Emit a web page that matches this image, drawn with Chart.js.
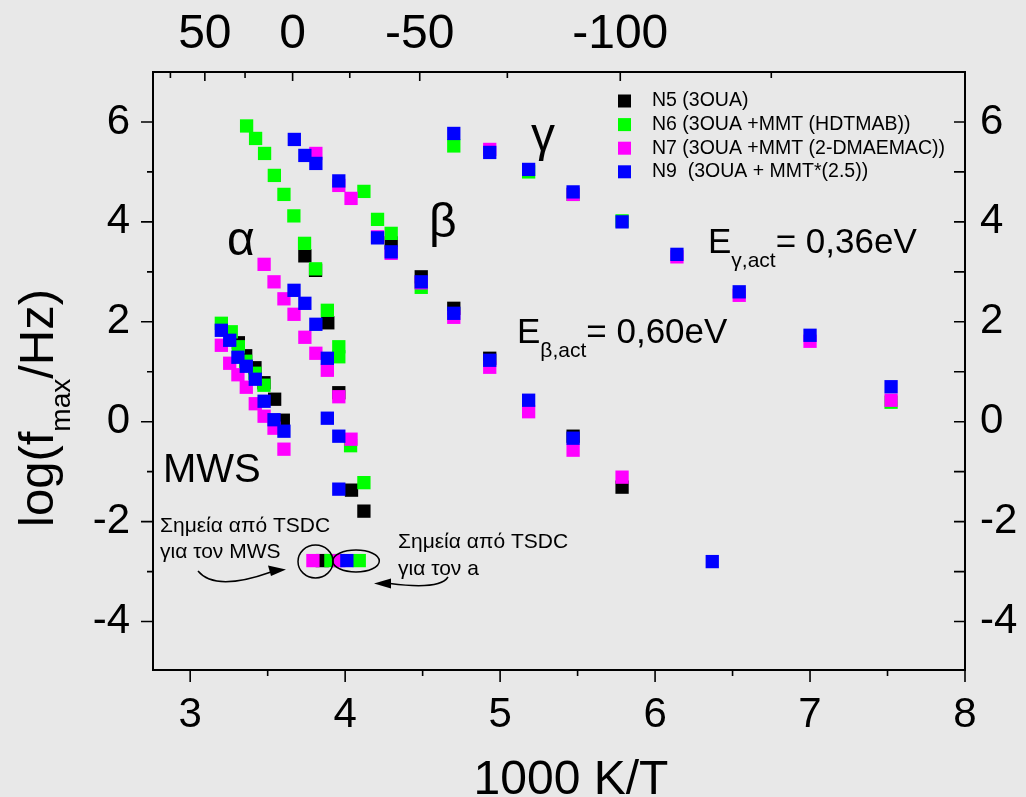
<!DOCTYPE html>
<html>
<head>
<meta charset="utf-8">
<script src="https://cdn.jsdelivr.net/npm/chart.js@4.4.1/dist/chart.umd.min.js"></script>
<style>
  html, body { margin: 0; padding: 0; background: #e8e8e8; }
  #wrap { position: relative; width: 1026px; height: 797px; }
</style>
</head>
<body>
<div id="wrap"><canvas id="myChart" width="1026" height="797"></canvas></div>
<script>
// axis ticks
const xTicks = [3, 4, 5, 6, 7, 8];
const yTicks = [-4, -2, 0, 2, 4, 6];
const celsiusLabels = [50, 0, -50, -100];
const celsiusMinor = [75, 25, -25, -75, -125];

const seriesNames = ['N5 (3OUA)', 'N6 (3OUA +MMT (HDTMAB))', 'N7 (3OUA +MMT (2-DMAEMAC))', 'N9  (3OUA + MMT*(2.5))'];
const seriesColors = ['#000000', '#00ff00', '#ff00ff', '#0000ff'];

// N5 (3OUA)
const n5X = [3.311, 3.358, 3.418, 3.476, 3.545, 3.601,
  3.740, 3.809, 3.888, 3.959, 4.041, 4.121,
  4.297, 4.491, 4.701, 4.933, 5.471, 5.787, 3.852];
const n5Y = [1.58, 1.32, 1.08, 0.78, 0.45, 0.03,
  3.32, 3.03, 1.98, 0.58, -1.37, -1.79,
  3.58, 2.90, 2.27, 1.27, -0.29, -1.31, -2.78];

// N6 (3OUA +MMT (HDTMAB))
const n6X = [3.201, 3.265, 3.311, 3.358, 3.418, 3.476,
  3.364, 3.422, 3.480, 3.543, 3.605, 3.669, 3.738, 3.809, 3.885, 3.959, 3.959, 4.035, 4.121,
  4.121, 4.209, 4.297, 4.491,
  4.701, 5.184, 5.471, 5.787, 7.523,
  3.908, 4.091];
const n6Y = [1.97, 1.80, 1.50, 1.21, 0.97, 0.73,
  5.92, 5.67, 5.37, 4.93, 4.55, 4.12, 3.57, 3.06, 2.23, 1.50, 1.30, -0.48, -1.22,
  4.61, 4.05, 3.77, 2.69,
  5.52, 5.00, 4.55, 4.02, 0.39,
  -2.78, -2.78];

// N7 (3OUA +MMT (2-DMAEMAC))
const n7X = [3.201, 3.255, 3.308, 3.362, 3.420, 3.477, 3.541, 3.605,
  3.477, 3.541, 3.605, 3.670, 3.740, 3.811, 3.885, 3.959, 4.038,
  3.811, 3.959, 4.038, 4.209, 4.297, 4.491, 4.701, 4.933, 5.184, 5.471, 5.787,
  4.933, 5.471, 6.141, 6.543, 7.000, 7.523,
  3.792, 3.959];
const n7Y = [1.53, 1.17, 0.94, 0.69, 0.36, 0.11, -0.13, -0.55,
  3.15, 2.80, 2.46, 2.15, 1.69, 1.37, 1.03, 0.50, -0.35,
  5.37, 4.73, 4.47, 3.70, 3.37, 2.78, 2.09, 1.09, 0.20, -0.57, -1.11,
  5.45, 4.55, 3.30, 2.53, 1.61, 0.43,
  -2.78, -2.78];

// N9 (3OUA + MMT*(2.5))
const n9X = [3.201, 3.255, 3.308, 3.362, 3.420, 3.477, 3.541, 3.605,
  3.670, 3.740, 3.811, 3.885, 3.885, 3.959, 3.959,
  3.672, 3.740, 3.811, 3.959, 4.209, 4.297, 4.491, 4.701, 4.933, 5.184, 5.471,
  4.701, 4.933, 5.184, 5.471, 5.787, 6.141, 6.543, 7.000, 7.523,
  6.369, 4.011];
const n9Y = [1.83, 1.63, 1.29, 1.11, 0.85, 0.41, 0.04, -0.19,
  2.63, 2.37, 1.95, 1.27, 0.07, -0.29, -1.35,
  5.65, 5.33, 5.17, 4.82, 3.68, 3.40, 2.80, 2.17, 1.23, 0.43, -0.33,
  5.77, 5.39, 5.05, 4.60, 4.00, 3.35, 2.60, 1.73, 0.70,
  -2.80, -2.78];

const seriesX = [n5X, n6X, n7X, n9X];
const seriesY = [n5Y, n6Y, n7Y, n9Y];

const FONT = "'Liberation Sans', Arial, sans-serif";
Chart.defaults.font.family = FONT;
Chart.defaults.color = '#000';

function toPoints(xs, ys) {
  return xs.map((x, i) => ({ x: x, y: ys[i] }));
}

// axes frame, tick marks, titles, legend and notes
const decorations = {
  id: 'decorations',
  afterDraw(chart) {
    const { ctx, chartArea: a, scales } = chart;
    const sx = scales.x, sy = scales.y;
    ctx.save();
    ctx.strokeStyle = '#000';
    ctx.fillStyle = '#000';

    ctx.lineWidth = 2;
    ctx.strokeRect(a.left, a.top, a.right - a.left, a.bottom - a.top);

    ctx.lineWidth = 1.6;
    ctx.beginPath();
    // bottom: major + half-step minor, pointing out
    for (let v = 3; v <= 8; v += 0.5) {
      const px = sx.getPixelForValue(v);
      const len = Number.isInteger(v) ? 12 : 6;
      ctx.moveTo(px, a.bottom); ctx.lineTo(px, a.bottom + len);
    }
    // left: every unit, pointing out
    for (let v = -4; v <= 6; v++) {
      const py = sy.getPixelForValue(v);
      const len = v % 2 === 0 ? 12 : 6;
      ctx.moveTo(a.left, py); ctx.lineTo(a.left - len, py);
    }
    // right: every unit, pointing in
    for (let v = -4; v <= 6; v++) {
      const py = sy.getPixelForValue(v);
      ctx.moveTo(a.right, py); ctx.lineTo(a.right - 11, py);
    }
    // top: celsius, pointing in
    celsiusLabels.forEach(c => {
      const px = sx.getPixelForValue(1000 / (c + 273.15));
      ctx.moveTo(px, a.top); ctx.lineTo(px, a.top + 9);
    });
    celsiusMinor.forEach(c => {
      const px = sx.getPixelForValue(1000 / (c + 273.15));
      ctx.moveTo(px, a.top); ctx.lineTo(px, a.top + 6);
    });
    ctx.stroke();

    // axis titles
    ctx.textBaseline = 'alphabetic';
    ctx.textAlign = 'center';
    ctx.font = '48px ' + FONT;
    ctx.fillText('1000 K/T', 571, 794);

    ctx.save();
    ctx.translate(53, 527);
    ctx.rotate(-Math.PI / 2);
    ctx.textAlign = 'left';
    ctx.font = '49px ' + FONT;
    const w1 = ctx.measureText('log(f').width;
    ctx.fillText('log(f', 0, 0);
    ctx.font = '28px ' + FONT;
    const w2 = ctx.measureText('max').width;
    ctx.fillText('max', w1, 17);
    ctx.font = '49px ' + FONT;
    ctx.fillText('/Hz)', w1 + w2, 0);
    ctx.restore();

    // legend
    ctx.textAlign = 'left';
    ctx.textBaseline = 'middle';
    ctx.font = '19.5px ' + FONT;
    seriesNames.forEach((name, i) => {
      const ry = 101 + i * 23.6;
      ctx.fillStyle = seriesColors[i];
      ctx.fillRect(618, ry - 6.5, 13, 13);
      ctx.fillStyle = '#000';
      ctx.fillText(name, 652, ry);
    });

    // process labels
    ctx.textBaseline = 'alphabetic';
    ctx.font = '48px ' + FONT;
    ctx.fillText('α', 227, 255);
    ctx.fillText('β', 429, 237);
    ctx.fillText('γ', 531, 151);
    ctx.font = '40px ' + FONT;
    ctx.fillText('MWS', 163, 482);

    function energy(x, yb, sub, rest) {
      ctx.font = '35px ' + FONT;
      ctx.fillText('E', x, yb);
      let cx = x + ctx.measureText('E').width;
      ctx.font = '21px ' + FONT;
      ctx.fillText(sub, cx, yb + 14);
      cx += ctx.measureText(sub).width;
      ctx.font = '35px ' + FONT;
      ctx.fillText(rest, cx, yb);
    }
    energy(517, 343, 'β,act', '= 0,60eV');
    energy(708, 253, 'γ,act', '= 0,36eV');

    ctx.font = '21px ' + FONT;
    ctx.fillText('Σημεία από TSDC', 160, 532);
    ctx.fillText('για τον MWS', 160, 558);
    ctx.fillText('Σημεία από TSDC', 398, 548);
    ctx.fillText('για τον a', 398, 575);

    // ellipses round the TSDC points
    ctx.lineWidth = 1.5;
    ctx.beginPath();
    ctx.ellipse(315.5, 561.5, 17.5, 16.5, 0, 0, Math.PI * 2);
    ctx.stroke();
    ctx.beginPath();
    ctx.ellipse(356, 561, 23.3, 11, 0, 0, Math.PI * 2);
    ctx.stroke();

    // arrows
    ctx.beginPath();
    ctx.moveTo(198, 571);
    ctx.quadraticCurveTo(215, 592, 271, 572);
    ctx.stroke();
    ctx.beginPath();
    ctx.moveTo(286, 569.5); ctx.lineTo(268, 565.5); ctx.lineTo(271, 576);
    ctx.closePath(); ctx.fill();

    ctx.beginPath();
    ctx.moveTo(448, 577);
    ctx.quadraticCurveTo(440, 590, 390, 583.5);
    ctx.stroke();
    ctx.beginPath();
    ctx.moveTo(374, 583.5); ctx.lineTo(391, 578.5); ctx.lineTo(391, 588.5);
    ctx.closePath(); ctx.fill();

    ctx.restore();
  }
};

const ctx = document.getElementById('myChart');
new Chart(ctx, {
  type: 'scatter',
  data: {
    datasets: seriesNames.map((name, i) => ({
      label: name,
      data: toPoints(seriesX[i], seriesY[i]),
      backgroundColor: seriesColors[i],
      borderColor: seriesColors[i],
      borderWidth: 0,
      pointStyle: 'rect',
      pointRadius: 9.4,
      pointHoverRadius: 9.4,
      order: 4 - i
    }))
  },
  options: {
    responsive: false,
    animation: false,
    devicePixelRatio: 1,
    layout: { padding: 0 },
    plugins: {
      legend: { display: false },
      tooltip: { enabled: false }
    },
    scales: {
      x: {
        type: 'linear',
        position: 'bottom',
        min: 2.76,
        max: 8,
        afterBuildTicks: s => { s.ticks = xTicks.map(v => ({ value: v })); },
        afterFit: s => { s.height = 127; },
        grid: { display: false, drawTicks: false },
        border: { display: false },
        ticks: {
          font: { size: 42 }, color: '#000', padding: 20,
          autoSkip: false, maxRotation: 0,
          callback: v => String(v)
        }
      },
      x2: {
        type: 'linear',
        position: 'top',
        min: 2.76,
        max: 8,
        afterBuildTicks: s => { s.ticks = celsiusLabels.map(c => ({ value: 1000 / (c + 273.15) })); },
        afterFit: s => { s.height = 72; },
        grid: { display: false, drawTicks: false },
        border: { display: false },
        ticks: {
          font: { size: 48 }, color: '#000', padding: 8,
          autoSkip: false, maxRotation: 0,
          callback: (v, i) => String(celsiusLabels[i])
        }
      },
      y: {
        type: 'linear',
        position: 'left',
        min: -4.97,
        max: 7,
        afterBuildTicks: s => { s.ticks = yTicks.map(v => ({ value: v })); },
        afterFit: s => { s.width = 153; },
        grid: { display: false, drawTicks: false },
        border: { display: false },
        ticks: { font: { size: 42 }, color: '#000', padding: 23, callback: v => String(v) }
      },
      y2: {
        type: 'linear',
        position: 'right',
        min: -4.97,
        max: 7,
        afterBuildTicks: s => { s.ticks = yTicks.map(v => ({ value: v })); },
        afterFit: s => { s.width = 61; },
        grid: { display: false, drawTicks: false },
        border: { display: false },
        ticks: { font: { size: 42 }, color: '#000', padding: 15, callback: v => String(v) }
      }
    }
  },
  plugins: [decorations]
});
</script>
</body>
</html>
